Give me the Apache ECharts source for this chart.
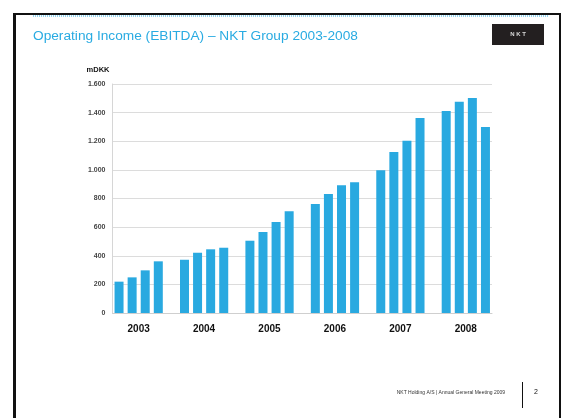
<!DOCTYPE html>
<html>
<head>
<meta charset="utf-8">
<style>
html,body{margin:0;padding:0;background:#fff;}
#chart{width:568px;height:418px;}
</style>
<script src="https://cdn.jsdelivr.net/npm/echarts@6/dist/echarts.min.js"></script>
</head>
<body>
<div id="chart"></div>
<script>
// ---- data ----
var years = ['2003', '2004', '2005', '2006', '2007', '2008'];
var values2003 = [219, 249, 298, 361];
var values2004 = [372, 421, 445, 456];
var values2005 = [505, 566, 636, 711];
var values2006 = [762, 831, 892, 913];
var values2007 = [997, 1125, 1204, 1362];
var values2008 = [1411, 1476, 1502, 1300];
var yTicks = [0, 200, 400, 600, 800, 1000, 1200, 1400, 1600];

var groups = [values2003, values2004, values2005, values2006, values2007, values2008];
var cats = [], vals = [];
groups.forEach(function (g, gi) {
  g.forEach(function (v) { cats.push(years[gi]); vals.push(v); });
  if (gi < groups.length - 1) { cats.push(''); vals.push(null); }
});

var chart = echarts.init(document.getElementById('chart'), null, {renderer: 'canvas'});
var font = 'Liberation Sans, Arial, sans-serif';
chart.setOption({
  animation: false,
  backgroundColor: '#fff',
  title: {
    text: 'Operating Income (EBITDA) \u2013 NKT Group 2003-2008',
    left: 28, top: 24,
    textStyle: {color: '#29abe2', fontSize: 13.7, fontWeight: 'normal', fontFamily: font}
  },
  grid: {left: 112.5, right: 76, top: 84, bottom: 105, containLabel: false},
  xAxis: {
    type: 'category',
    data: cats,
    boundaryGap: true,
    axisLine: {show: true, lineStyle: {color: '#cfcfcf', width: 1}},
    axisTick: {show: false},
    axisLabel: {
      interval: function (idx) { return idx % 5 === 1; },
      padding: [0, 0, 0, 13],
      margin: 11,
      color: '#111', fontSize: 10, fontWeight: 'bold', fontFamily: font
    },
    splitLine: {show: false}
  },
  yAxis: {
    type: 'value',
    min: yTicks[0], max: yTicks[yTicks.length - 1], interval: 200,
    name: 'mDKK',
    nameLocation: 'end',
    nameGap: 10,
    nameTextStyle: {color: '#111', fontSize: 7.5, fontWeight: 'bold', fontFamily: font, align: 'right', padding: [0, 3, 0, 0]},
    axisLine: {show: true, lineStyle: {color: '#d6d6d6'}},
    axisTick: {show: false},
    axisLabel: {
      color: '#444', fontSize: 7, fontWeight: 'bold', fontFamily: font, margin: 7,
      formatter: function (v) { return String(v).replace(/\B(?=(\d{3})+(?!\d))/g, '.'); }
    },
    splitLine: {show: true, lineStyle: {color: '#dcdcdc', width: 1}}
  },
  series: [{
    type: 'bar',
    data: vals,
    barWidth: 9,
    itemStyle: {color: '#29a9e0'}
  }],
  graphic: [
    // slide frame
    {type: 'rect', shape: {x: 13, y: 13, width: 3, height: 410}, style: {fill: '#111'}},
    {type: 'rect', shape: {x: 13, y: 13, width: 548, height: 2}, style: {fill: '#111'}},
    {type: 'rect', shape: {x: 559, y: 13, width: 2, height: 410}, style: {fill: '#111'}},
    {type: 'line', shape: {x1: 33, y1: 16, x2: 549, y2: 16}, style: {stroke: '#29abe2', lineWidth: 1, lineDash: [1, 1]}},
    // logo
    {type: 'rect', shape: {x: 492, y: 24, width: 52, height: 21}, style: {fill: '#231f20'}},
    {type: 'text', x: 518, y: 34.5, style: {text: 'N K T', fill: '#d8d8d8', font: 'bold 6px ' + font, textAlign: 'center', textVerticalAlign: 'middle'}},
    // footer
    {type: 'text', right: 568 - 505, top: 390, style: {text: 'NKT Holding A/S | Annual General Meeting 2009', fill: '#333', font: '5px ' + font, textAlign: 'right'}},
    {type: 'line', shape: {x1: 522.5, y1: 382, x2: 522.5, y2: 408}, style: {stroke: '#111', lineWidth: 1}},
    {type: 'text', left: 534, top: 389, style: {text: '2', fill: '#111', font: '7px ' + font}}
  ]
});
</script>
</body>
</html>
